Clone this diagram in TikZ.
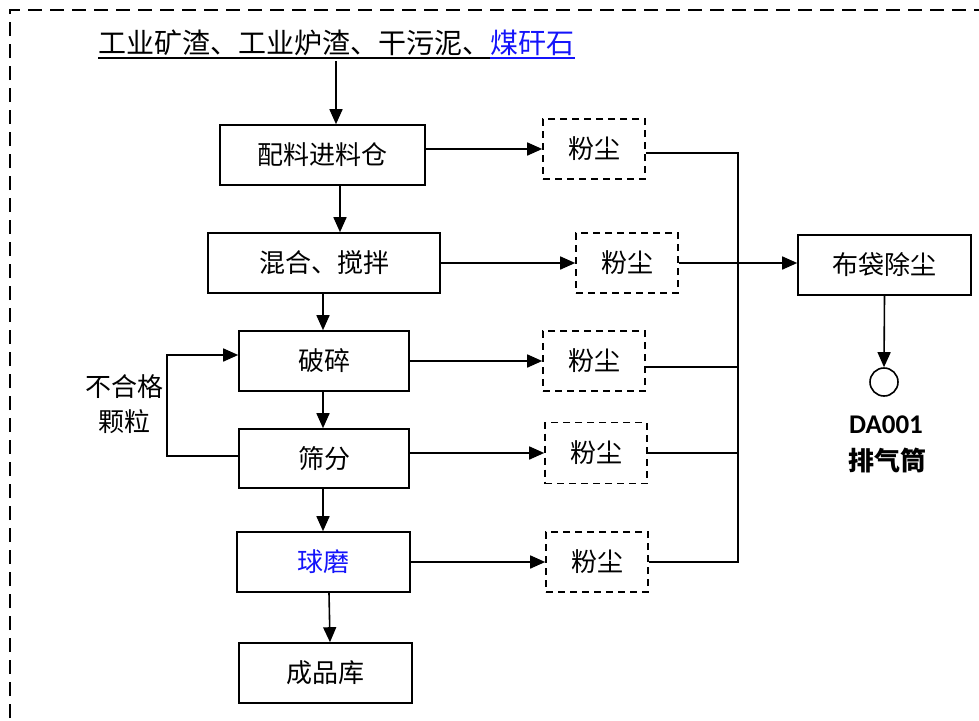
\documentclass[tikz,border=0pt]{standalone}
\usepackage{fontspec}
\setmainfont{Noto Sans CJK SC}
\newfontfamily\lat{Carlito}
\usetikzlibrary{arrows.meta,calc}
\definecolor{linkblue}{RGB}{20,20,250}
\begin{document}
\begin{tikzpicture}[x=1pt,y=-1pt,
  txt/.style={font=\fontsize{26}{30}\selectfont},
  box/.style={draw,line width=1.6pt,inner sep=0pt,minimum height=60pt,txt},
  dust/.style={draw,dash pattern=on 7pt off 5pt,line width=1.6pt,inner sep=0pt,minimum width=102pt,minimum height=60pt,txt},
  arr/.style={line width=1.6pt,-{Triangle[length=15pt,width=13pt]}},
  ln/.style={line width=1.6pt}]
\useasboundingbox (0,0) rectangle (979,720);
% outer dashed frame
\draw[line width=1.6pt,dash pattern=on 14pt off 8pt] (10,740) -- (10,10) -- (1000,10);
% source text
\node[anchor=base west,inner sep=0pt,font=\fontsize{28}{32}\selectfont] (src) at (98,53) {工业矿渣、工业炉渣、干污泥、};
\node[anchor=base west,inner sep=0pt,font=\fontsize{28}{32}\selectfont,text=linkblue] (src2) at (src.base east) {煤矸石};
\draw[line width=1.3pt] ($(src.base west)+(0,5)$) -- ($(src.base east)+(0,5)$);
\draw[line width=1.3pt,linkblue] ($(src2.base west)+(0,5)$) -- ($(src2.base east)+(0,5)$);
\coordinate (srcbot) at (336,61);
% process boxes
\node[box,minimum width=205pt] (pl) at (322.5,155) {配料进料仓};
\node[box,minimum width=232pt] (hh) at (324,263) {混合、搅拌};
\node[box,minimum width=170pt] (ps) at (324,361) {破碎};
\node[box,minimum width=170pt,minimum height=59pt] (sf) at (324,458.5) {筛分};
\node[box,minimum width=173pt,text=linkblue] (qm) at (323.5,562) {球磨};
\node[box,minimum width=173pt] (cp) at (325.5,673) {成品库};
% dust boxes
\node[dust] (d1) at (594,149) {粉尘};
\node[dust] (d2) at (627,263) {粉尘};
\node[dust] (d3) at (594,361) {粉尘};
\node[dust,minimum height=61pt] (d4) at (596,453) {粉尘};
\node[dust] (d5) at (597,562) {粉尘};
% bag filter and stack
\node[box,minimum width=173pt] (bd) at (884.5,265) {布袋除尘};
\node[circle,draw,line width=1.6pt,minimum size=28pt,inner sep=0pt] (stack) at (884,382) {};
\node[font=\lat\bfseries\fontsize{27}{30}\selectfont] (da) at (886,425) {DA001};
\node[font=\bfseries\fontsize{26}{30}\selectfont] (pqt) at (887,460) {排气筒};
% reject label
\node[txt] (bh1) at (124,387) {不合格};
\node[txt] (bh2) at (124,422) {颗粒};
% main flow
\draw[arr] (srcbot) -- (srcbot |- pl.north);
\draw[arr] ([xshift=17.5pt]pl.south) -- ([xshift=17.5pt]pl.south |- hh.north);
\draw[arr] ([xshift=-1pt]hh.south) -- ([xshift=-1pt]hh.south |- ps.north);
\draw[arr] ([xshift=-1pt]ps.south) -- ([xshift=-1pt]ps.south |- sf.north);
\draw[arr] ([xshift=-1pt]sf.south) -- ([xshift=-1pt]sf.south |- qm.north);
\draw[arr] ([xshift=5.5pt]qm.south) -- ([xshift=4.5pt]cp.north);
% loop
\coordinate (loopx) at (167,0);
\draw[arr] ([yshift=2.5pt]sf.west) -- ([yshift=2.5pt]sf.west -| loopx) -- ([yshift=6pt]ps.west -| loopx) -- ([yshift=6pt]ps.west);
% to dust
\draw[arr] (pl.east |- d1.west) -- (d1.west);
\draw[arr] (hh.east) -- (d2.west);
\draw[arr] (ps.east) -- (d3.west);
\draw[arr] (sf.east |- d4.west) -- (d4.west);
\draw[arr] (qm.east) -- (d5.west);
% collector
\coordinate (busx) at (738,0);
\draw[ln] ([yshift=-4pt]d1.east) -- ([yshift=-4pt]d1.east -| busx) -- (d5.east -| busx) -- (d5.east);
\draw[ln] ([yshift=-6pt]d3.east) -- ([yshift=-6pt]d3.east -| busx);
\draw[ln] (d4.east) -- (d4.east -| busx);
\draw[arr] (d2.east) -- (d2.east -| bd.west);
\draw[arr] (bd.south) -- (stack.north);
\end{tikzpicture}
\end{document}
